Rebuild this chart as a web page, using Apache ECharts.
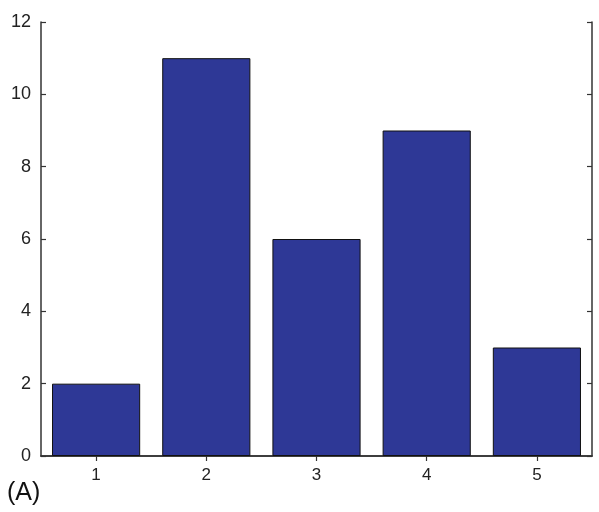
<!DOCTYPE html>
<html>
<head>
<meta charset="utf-8">
<script src="https://cdn.jsdelivr.net/npm/echarts@6/dist/echarts.min.js"></script>
<style>
  html, body { margin: 0; padding: 0; background: #fff; }
  #chart { width: 599px; height: 512px; }
</style>
</head>
<body>
<div id="chart"></div>
<script>
// bar heights
const categories = ['1', '2', '3', '4', '5'];
const values = [2, 11, 6, 9, 3];
const yTicks = [0, 2, 4, 6, 8, 10, 12];

const chart = echarts.init(document.getElementById('chart'));

const axisLine = { show: true, lineStyle: { color: '#333', width: 1.5 } };
const ticksIn = { show: true, inside: true, length: 5, lineStyle: { color: '#333', width: 1.2 } };

const option = {
    animation: false,
    grid: { left: 41, top: 22, right: 7, bottom: 56 },
    xAxis: [
        {
            type: 'category', data: categories, position: 'bottom',
            axisLine: axisLine,
            axisTick: Object.assign({ alignWithLabel: true }, ticksIn),
            axisLabel: { color: '#222', fontSize: 17, fontFamily: 'Liberation Sans', margin: 11 }
        },
        {
            type: 'category', data: categories, position: 'top',
            axisLine: axisLine,
            axisTick: Object.assign({ alignWithLabel: true }, ticksIn),
            axisLabel: { show: false }
        }
    ],
    yAxis: [
        {
            type: 'value', min: yTicks[0], max: yTicks[yTicks.length - 1], interval: 2,
            axisLine: axisLine, axisTick: ticksIn, splitLine: { show: false },
            axisLabel: { color: '#222', fontSize: 18, fontFamily: 'Liberation Sans', margin: 10 }
        },
        {
            type: 'value', min: yTicks[0], max: yTicks[yTicks.length - 1], interval: 2, position: 'right',
            axisLine: axisLine, axisTick: ticksIn, splitLine: { show: false },
            axisLabel: { show: false }
        }
    ],
    graphic: [{
        type: 'text', left: 7, top: 481,
        style: { text: '(A)', fontSize: 25, fontFamily: 'Liberation Sans', fill: '#111' }
    }],
    series: [{
        type: 'bar', data: values, barWidth: '80%',
        itemStyle: { color: '#2E3896', borderColor: '#111', borderWidth: 1 }
    }]
};

chart.setOption(option);
</script>
</body>
</html>
